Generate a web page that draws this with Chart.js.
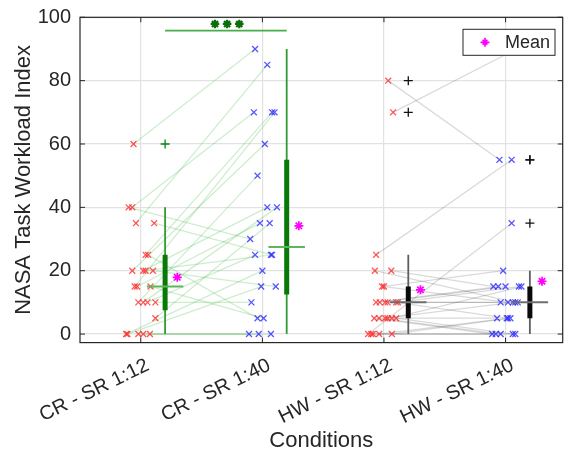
<!DOCTYPE html>
<html><head><meta charset="utf-8">
<script src="https://cdn.jsdelivr.net/npm/chart.js@4.4.1/dist/chart.umd.min.js"></script>
<style>html,body{margin:0;padding:0;background:#fff}#wrap{width:564px;height:454px;position:relative}</style>
</head><body><div id="wrap"><canvas id="c" width="564" height="454"></canvas></div>
<script>
// ---------------- data ----------------
const conditions = ['CR - SR 1:12', 'CR - SR 1:40', 'HW - SR 1:12', 'HW - SR 1:40'];
const yTickValues = [0, 20, 40, 60, 80, 100];
const xAxisTitle = 'Conditions';
const yAxisTitle = 'NASA Task Workload Index';
const legendLabel = 'Mean';

// one entry per participant (paired across SR 1:12 / SR 1:40)
const crSR12 = [60,40,40,35,35,25,25,20,20,20,20,15,15,15,10,10,10,10,5,0,0,0,0,0];
const crSR12Jitter = [-0.06,-0.10,-0.07,-0.04,0.11,0.04,0.06,-0.07,0.02,0.04,0.10,-0.05,-0.03,0.08,-0.02,0.02,0.055,0.12,0.12,-0.12,-0.11,-0.02,0.02,0.075];
const crSR40 = [90,30,70,85,25,70,5,60,40,25,15,70,35,5,50,40,25,10,35,20,15,0,0,0];
const crSR40Jitter = [-0.06,-0.10,-0.07,0.04,0.08,0.08,-0.04,0.02,0.04,0.07,0.11,0.10,-0.02,0.01,-0.04,0.12,-0.06,-0.09,0.06,0,-0.01,-0.11,-0.03,0.07];

const hwSR12 = [80,70,25,20,20,15,15,10,10,10,10,10,10,5,5,5,5,5,5,0,0,0,0,0];
const hwSR12Jitter = [0.035,0.075,-0.065,-0.075,0.06,-0.015,0,-0.065,-0.035,0.01,0.03,0.10,0.115,-0.08,-0.04,0.01,0.03,0.065,0.10,-0.13,-0.105,-0.09,-0.04,0.065];
const hwSR40 = [55,90,55,10,15,20,10,15,15,10,10,5,15,0,0,10,5,15,0,35,0,0,5,5];
const hwSR40Jitter = [-0.05,0.09,0.05,0.08,-0.10,-0.02,0.02,-0.06,0,-0.04,0.10,0.01,0.11,-0.11,-0.04,0.06,-0.07,0.13,0.06,0.05,-0.08,0.08,0.02,0.04];

// significance annotation between CR conditions
const sigBarY = 95.8;
const sigStarsX = [1.61, 1.71, 1.81];
const sigStarsY = 97.9;

// ---------------- helpers ----------------
function prctile(vals, p) {
  const s = vals.slice().sort((a, b) => a - b), n = s.length;
  const pos = p / 100 * n + 0.5;
  if (pos <= 1) return s[0];
  if (pos >= n) return s[n - 1];
  const i = Math.floor(pos), f = pos - i;
  return s[i - 1] + f * (s[i] - s[i - 1]);
}
function boxStats(vals) {
  const q1 = prctile(vals, 25), med = prctile(vals, 50), q3 = prctile(vals, 75);
  const iqr = q3 - q1, lo = q1 - 1.5 * iqr, hi = q3 + 1.5 * iqr;
  const inside = vals.filter(v => v >= lo && v <= hi);
  return { q1, med, q3, wLo: Math.min(...inside), wHi: Math.max(...inside),
    out: vals.filter(v => v < lo || v > hi), mean: vals.reduce((a, b) => a + b, 0) / vals.length };
}

const groups = [
  { vals: crSR12, jit: crSR12Jitter, pos: 1, pt: 'rgba(255,40,40,0.78)', fam: 'cr' },
  { vals: crSR40, jit: crSR40Jitter, pos: 2, pt: 'rgba(40,40,255,0.78)', fam: 'cr' },
  { vals: hwSR12, jit: hwSR12Jitter, pos: 3, pt: 'rgba(255,40,40,0.78)', fam: 'hw' },
  { vals: hwSR40, jit: hwSR40Jitter, pos: 4, pt: 'rgba(40,40,255,0.78)', fam: 'hw' },
];
const famStyle = {
  cr: { pair: 'rgba(80,190,80,0.28)', whisker: '#329a32', box: '#087808', med: '#5cb65c', out: '#0a820a' },
  hw: { pair: 'rgba(0,0,0,0.15)', whisker: '#5e5e5e', box: '#0a0a0a', med: '#6e6e6e', out: '#111111' },
};
const BOX_OFF = 0.2, MEAN_OFF = 0.3, MED_HALF = 0.15;

const datasets = [];
// paired lines
[[0, 1], [2, 3]].forEach(([a, b]) => {
  const ga = groups[a], gb = groups[b];
  ga.vals.forEach((v, i) => {
    datasets.push({ type: 'line', order: 20,
      data: [{ x: ga.pos + ga.jit[i], y: v }, { x: gb.pos + gb.jit[i], y: gb.vals[i] }],
      borderColor: famStyle[ga.fam].pair, borderWidth: 1.3, pointRadius: 0, fill: false });
  });
});
// individual points
groups.forEach(g => {
  datasets.push({ type: 'scatter', order: 15,
    data: g.vals.map((v, i) => ({ x: g.pos + g.jit[i], y: v })),
    pointStyle: 'crossRot', pointRadius: 4.2, borderColor: g.pt, backgroundColor: g.pt, pointBorderWidth: 1.3 });
});
// box plots
groups.forEach(g => {
  const st = boxStats(g.vals), fs = famStyle[g.fam], bx = g.pos + BOX_OFF;
  datasets.push({ type: 'line', order: 10, data: [{ x: bx, y: st.wLo }, { x: bx, y: st.wHi }],
    borderColor: fs.whisker, borderWidth: 1.8, pointRadius: 0 });
  datasets.push({ type: 'line', order: 9, data: [{ x: bx, y: st.q1 }, { x: bx, y: st.q3 }],
    borderColor: fs.box, borderWidth: 5, pointRadius: 0, borderCapStyle: 'butt' });
  datasets.push({ type: 'line', order: 8, data: [{ x: bx - MED_HALF, y: st.med }, { x: bx + MED_HALF, y: st.med }],
    borderColor: fs.med, borderWidth: 2, pointRadius: 0 });
  if (st.out.length) datasets.push({ type: 'scatter', order: 7, data: st.out.map(v => ({ x: bx, y: v })),
    pointStyle: 'cross', pointRadius: 4.5, borderColor: fs.out, pointBorderWidth: 1.3 });
  datasets.push({ type: 'scatter', order: 5, label: legendLabel, data: [{ x: g.pos + MEAN_OFF, y: st.mean }],
    pointStyle: 'star', pointRadius: 4.5, borderColor: '#ff00ff', backgroundColor: '#ff00ff', pointBorderWidth: 1.7 });
});
// significance bar + stars
datasets.push({ type: 'line', order: 4, data: [{ x: 1 + BOX_OFF, y: sigBarY }, { x: 2 + BOX_OFF, y: sigBarY }],
  borderColor: '#47ad47', borderWidth: 1.8, pointRadius: 0 });
datasets.push({ type: 'scatter', order: 3, data: sigStarsX.map(x => ({ x, y: sigStarsY })),
  pointStyle: 'star', pointRadius: 4.3, borderColor: '#0b6e0b', pointBorderWidth: 2.2 });

const FONT = "'Liberation Sans', Arial, sans-serif";
const TXT = '#262626';

function drawStar(ctx, x, y, r) {
  ctx.beginPath();
  for (let k = 0; k < 4; k++) {
    const a = k * Math.PI / 4, rr = (k % 2) ? r * 0.75 : r;
    ctx.moveTo(x - Math.cos(a) * rr, y - Math.sin(a) * rr);
    ctx.lineTo(x + Math.cos(a) * rr, y + Math.sin(a) * rr);
  }
  ctx.stroke();
}

const framePlugin = {
  id: 'frame',
  afterDatasetsDraw(chart) {
    const { ctx, chartArea: ca, scales } = chart;
    ctx.save();
    // inward tick marks
    ctx.strokeStyle = TXT; ctx.lineWidth = 1;
    ctx.beginPath();
    [1, 2, 3, 4].forEach(v => {
      const px = scales.x.getPixelForValue(v);
      ctx.moveTo(px, ca.bottom); ctx.lineTo(px, ca.bottom - 5);
      ctx.moveTo(px, ca.top); ctx.lineTo(px, ca.top + 5);
    });
    yTickValues.forEach(v => {
      const py = scales.y.getPixelForValue(v);
      ctx.moveTo(ca.left, py); ctx.lineTo(ca.left + 5, py);
      ctx.moveTo(ca.right, py); ctx.lineTo(ca.right - 5, py);
    });
    ctx.stroke();
    // axes box
    ctx.strokeStyle = '#262626'; ctx.lineWidth = 1.2;
    ctx.strokeRect(ca.left, ca.top, ca.right - ca.left, ca.bottom - ca.top);
    // legend
    const lw = 92, lh = 26, lx = ca.right - 7.7 - lw, ly = ca.top + 12;
    ctx.fillStyle = '#fff'; ctx.fillRect(lx, ly, lw, lh);
    ctx.strokeStyle = '#262626'; ctx.lineWidth = 1;
    ctx.strokeRect(lx, ly, lw, lh);
    ctx.strokeStyle = '#ff00ff'; ctx.lineWidth = 1.7;
    drawStar(ctx, lx + 22, ly + lh / 2, 4.5);
    ctx.fillStyle = TXT; ctx.font = '18px ' + FONT; ctx.textBaseline = 'middle'; ctx.textAlign = 'left';
    ctx.fillText(legendLabel, lx + 42, ly + lh / 2 + 1);
    ctx.restore();
  }
};

new Chart(document.getElementById('c'), {
  type: 'scatter',
  data: { datasets },
  plugins: [framePlugin],
  options: {
    responsive: false, animation: false, devicePixelRatio: 1,
    layout: { autoPadding: false, padding: { top: 17.3, right: 1.3, left: 0, bottom: 0 } },
    plugins: { legend: { display: false }, tooltip: { enabled: false } },
    scales: {
      x: {
        type: 'linear', min: 0.5, max: 4.47,
        afterBuildTicks: s => { s.ticks = [1, 2, 3, 4].map(v => ({ value: v })); },
        afterFit: s => { s.height = 454 - 342.6; s.paddingLeft = 0; s.paddingRight = 0; },
        ticks: { autoSkip: false, minRotation: 26, maxRotation: 26, padding: 11, labelOffset: 7, color: TXT,
          font: { family: FONT, size: 20 }, callback: v => conditions[v - 1] },
        grid: { color: '#e2e2e2', lineWidth: 1.2, drawTicks: false },
        border: { display: false },
        title: { display: true, text: xAxisTitle, color: TXT, font: { family: FONT, size: 22, lineHeight: 1 }, padding: { top: 0, bottom: 2 } }
      },
      y: {
        type: 'linear', min: -2.7, max: 100,
        afterBuildTicks: s => { s.ticks = yTickValues.map(v => ({ value: v })); },
        afterFit: s => { s.width = 80; s.paddingTop = 0; s.paddingBottom = 0; },
        ticks: { padding: 9, color: TXT, font: { family: FONT, size: 20 } },
        grid: { color: '#e2e2e2', lineWidth: 1.2, drawTicks: false },
        border: { display: false },
        title: { display: true, text: yAxisTitle, color: TXT, font: { family: FONT, size: 22, lineHeight: 1 }, padding: { top: 13, bottom: 0 } }
      }
    }
  }
});
</script>
</body></html>
